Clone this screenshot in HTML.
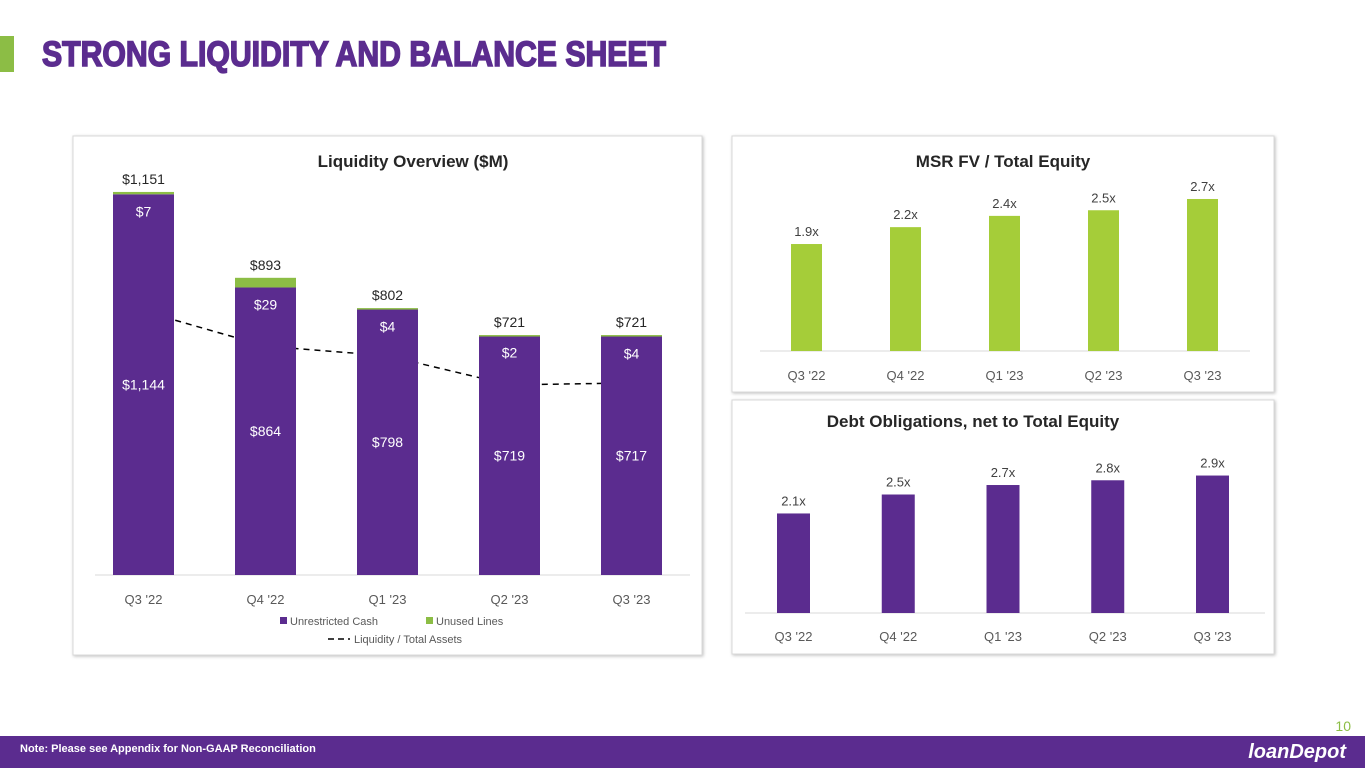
<!DOCTYPE html>
<html><head><meta charset="utf-8"><style>
html,body{margin:0;padding:0;background:#fff;}
svg{display:block;font-family:"Liberation Sans",sans-serif;}
</style></head><body>
<svg id="s" width="1365" height="768" viewBox="0 0 1365 768">
<defs><filter id="sh" x="-5%" y="-5%" width="110%" height="110%"><feDropShadow dx="1" dy="1" stdDeviation="1.5" flood-color="#000" flood-opacity="0.25"/></filter></defs>
<rect x="0" y="36" width="14" height="36" fill="#8cbd45"/>
<text x="42" y="66" font-size="35" font-weight="bold" fill="#5b2c8f" stroke="#5b2c8f" stroke-width="1.6" textLength="624" lengthAdjust="spacingAndGlyphs">STRONG LIQUIDITY AND BALANCE SHEET</text>
<rect x="73" y="136" width="629" height="519" fill="#fff" stroke="#d9d9d9" filter="url(#sh)"/>
<rect x="732" y="136" width="542" height="256" fill="#fff" stroke="#d9d9d9" filter="url(#sh)"/>
<rect x="732" y="400" width="542" height="254" fill="#fff" stroke="#d9d9d9" filter="url(#sh)"/>
<text x="413" y="167" font-size="17" font-weight="bold" text-anchor="middle" fill="#262626">Liquidity Overview ($M)</text>
<text x="1003" y="167" font-size="17" font-weight="bold" text-anchor="middle" fill="#262626">MSR FV / Total Equity</text>
<text x="973" y="427" font-size="17" font-weight="bold" text-anchor="middle" fill="#262626">Debt Obligations, net to Total Equity</text>
<g id="liq"></g><g id="msr"></g><g id="debt"></g>
<rect x="0" y="736" width="1365" height="32" fill="#5b2c8f"/>
<text x="20" y="752" font-size="11" font-weight="bold" fill="#fff">Note: Please see Appendix for Non-GAAP  Reconciliation</text>
<text x="1351" y="731" font-size="14" fill="#8cbd45" text-anchor="end">10</text>
<text x="1346" y="758" font-size="20" font-weight="bold" font-style="italic" fill="#fff" text-anchor="end">loanDepot</text>
</svg>
<script>
const cats=["Q3 '22","Q4 '22","Q1 '23","Q2 '23","Q3 '23"];
const cash=[1144,864,798,719,717];
const lines=[7,29,4,2,4];
const totals=["$1,151","$893","$802","$721","$721"];
const ratio=[0.136,0.118,0.113,0.098,0.099];
const msr=[1.9,2.2,2.4,2.5,2.7];
const debt=[2.1,2.5,2.7,2.8,2.9];
const NS="http://www.w3.org/2000/svg";
function mk(p,t,a,txt){const e=document.createElementNS(NS,t);for(const k in a)e.setAttribute(k,a[k]);if(txt!==undefined)e.textContent=txt;p.appendChild(e);return e;}
// liquidity
const L=document.getElementById('liq');
const lx=i=>143.5+i*122, ly=v=>575-v*0.3328, ry=v=>575-v*1940;
let pts=[];
for(let i=0;i<cats.length;i++){pts.push(lx(i)+','+ry(ratio[i]));}
let d=mk(L,'polyline',{points:pts.join(' '),fill:'none',stroke:'#000','stroke-width':1.5,'stroke-dasharray':'6,5'});


mk(L,'line',{x1:95,x2:690,y1:575,y2:575,stroke:'#d9d9d9'});
for(let i=0;i<cats.length;i++){
 const x=lx(i),w=61,tc=ly(cash[i]),tt=ly(cash[i]+lines[i]);
 let b=mk(L,'rect',{x:x-w/2,y:tc,width:w,height:575-tc,fill:'#5b2c8f'});
 
 
 let g=mk(L,'rect',{x:x-w/2,y:tt,width:w,height:Math.max(tc-tt,1.5),fill:'#8cbd45'});
 
 
 mk(L,'text',{x:x,y:(tc+575)/2+5,'font-size':14,fill:'#fff','text-anchor':'middle'},'$'+cash[i].toLocaleString('en-US'));
 mk(L,'text',{x:x,y:tc+22,'font-size':14,fill:'#fff','text-anchor':'middle'},'$'+lines[i]);
 mk(L,'text',{x:x,y:tt-8,'font-size':14,fill:'#262626','text-anchor':'middle'},totals[i]);
 mk(L,'text',{x:x,y:604,'font-size':13,fill:'#595959','text-anchor':'middle'},cats[i]);
}
mk(L,'rect',{x:280,y:617,width:7,height:7,fill:'#5b2c8f'});
mk(L,'text',{x:290,y:625,'font-size':11,fill:'#595959'},'Unrestricted Cash');
mk(L,'rect',{x:426,y:617,width:7,height:7,fill:'#8cbd45'});
mk(L,'text',{x:436,y:625,'font-size':11,fill:'#595959'},'Unused Lines');
mk(L,'line',{x1:328,x2:350,y1:639,y2:639,stroke:'#000','stroke-width':1.5,'stroke-dasharray':'6,4'});
mk(L,'text',{x:354,y:643,'font-size':11,fill:'#595959'},'Liquidity / Total Assets');
// msr
const M=document.getElementById('msr');
mk(M,'line',{x1:760,x2:1250,y1:351,y2:351,stroke:'#d9d9d9'});
for(let i=0;i<cats.length;i++){const x=806.5+i*99,t=351-msr[i]*56.3;
 let b=mk(M,'rect',{x:x-15.5,y:t,width:31,height:351-t,fill:'#a5cd39'});
 
 
 mk(M,'text',{x:x,y:t-8,'font-size':13,fill:'#404040','text-anchor':'middle'},msr[i].toFixed(1)+'x');
 mk(M,'text',{x:x,y:380,'font-size':13,fill:'#595959','text-anchor':'middle'},cats[i]);}
// debt
const D=document.getElementById('debt');
mk(D,'line',{x1:745,x2:1265,y1:613,y2:613,stroke:'#d9d9d9'});
for(let i=0;i<cats.length;i++){const x=793.5+i*104.75,t=613-debt[i]*47.4;
 let b=mk(D,'rect',{x:x-16.5,y:t,width:33,height:613-t,fill:'#5b2c8f'});
 
 
 mk(D,'text',{x:x,y:t-8,'font-size':13,fill:'#404040','text-anchor':'middle'},debt[i].toFixed(1)+'x');
 mk(D,'text',{x:x,y:641,'font-size':13,fill:'#595959','text-anchor':'middle'},cats[i]);}
</script>
</body></html>
